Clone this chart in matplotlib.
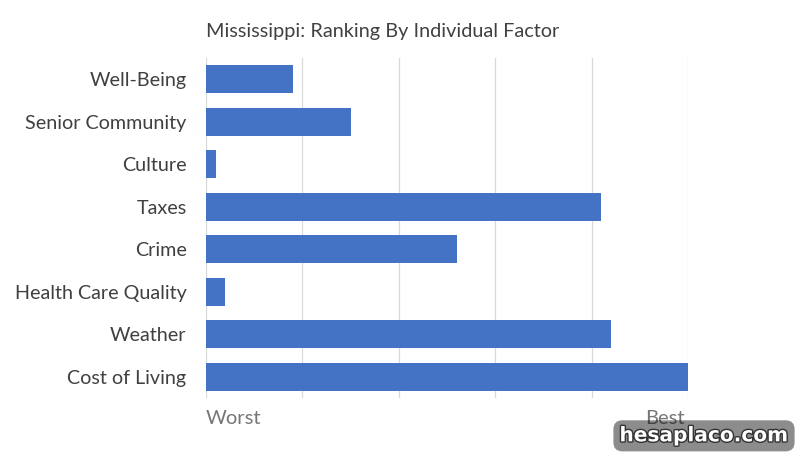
import matplotlib.pyplot as plt
import matplotlib.patheffects as pe

# data
factors = ["Well-Being", "Senior Community", "Culture", "Taxes", "Crime",
           "Health Care Quality", "Weather", "Cost of Living"]
scores = [9, 15, 1, 41, 26, 2, 42, 50]
x_labels = ["Worst", "Best"]

plt.rcParams["font.family"] = ["Lato", "DejaVu Sans"]

fig = plt.figure(figsize=(8, 4.54), dpi=100)
ax = fig.add_axes([0.2575, 0.1227, 0.6025, 0.750])

pos = list(range(len(factors)))
ax.barh(pos, scores, height=0.66, color="#4472C4", zorder=3)
ax.set_yticks(pos)
ax.set_yticklabels(factors, fontsize=14.2, color="#404040")
ax.set_ylim(len(factors) - 0.5, -0.5)

ax.set_xlim(0, 50)
ax.set_xticks([0, 10, 20, 30, 40, 50])
ax.set_xticklabels([])
ax.grid(axis="x", color="#D9D9D9", linewidth=0.9, zorder=0)
ax.tick_params(axis="y", length=0, pad=14)
ax.tick_params(axis="x", length=0)
for s in ax.spines.values():
    s.set_visible(False)

# end labels instead of numbers
ax.text(0, -0.06, x_labels[0], transform=ax.get_xaxis_transform(),
        ha="left", va="center", fontsize=14.5, color="#767676")
ax.text(49.6, -0.06, x_labels[1], transform=ax.get_xaxis_transform(),
        ha="right", va="center", fontsize=14.5, color="#767676")

fig.text(0.2575, 0.93, "Mississippi: Ranking By Individual Factor",
         ha="left", va="center", fontsize=14.3, color="#404040")

# watermark: translucent box over the lower part of the "Best" label
wm = fig.text(0.880, 0.040, "hesaplaco.com", ha="center", va="center",
              fontsize=14.5, fontweight="bold", color="white",
              family="DejaVu Sans",
              bbox=dict(boxstyle="round,pad=0.3,rounding_size=0.45",
                        fc=(0, 0, 0, 0.45), ec="none"))
wm.set_path_effects([pe.withStroke(linewidth=2, foreground="#333333")])

fig.savefig("out.png", dpi=100)
